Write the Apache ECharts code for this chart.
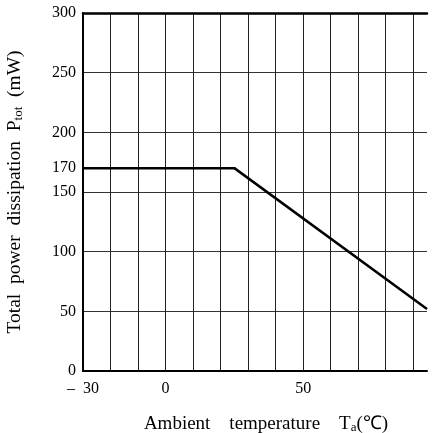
<!DOCTYPE html>
<html><head><meta charset="utf-8">
<script src="https://cdn.jsdelivr.net/npm/echarts@6/dist/echarts.min.js"></script>
<style>html,body{margin:0;padding:0;background:#fff}#c{width:436px;height:433px}</style>
</head><body><div id="c"></div>
<script>
const temps = [-30, 25, 95];
const power = [170, 170, 52];
const yLabelValues = [0, 50, 100, 150, 170, 200, 250, 300];
const xLabelValues = [-30, 0, 50];
const xLabelTexts = ['–  30', '0', '50'];

const font = 'Liberation Serif';
const chart = echarts.init(document.getElementById('c'), null, {renderer: 'canvas'});
chart.setOption({
  animation: false,
  backgroundColor: '#fff',
  grid: {left: 83, top: 13, right: 9, bottom: 62, outerBoundsMode: 'none', containLabel: false},
  xAxis: [{
    type: 'value', min: -30, max: 95, interval: 10, position: 'bottom',
    axisLine: {show: true, onZero: false, lineStyle: {color: '#000', width: 2}},
    axisTick: {show: false},
    splitLine: {show: true, showMaxLine: false, lineStyle: {color: '#222', width: 1}},
    axisLabel: {
      color: '#000', fontFamily: font, fontSize: 16, margin: 10, showMaxLabel: false,
      formatter: v => { const i = xLabelValues.indexOf(v); return i >= 0 ? xLabelTexts[i] : ''; }
    },
    name: '{n|Ambient    temperature    T}{s|a}{n|(℃)}',
    nameLocation: 'middle', nameGap: 43,
    nameTextStyle: {
      padding: [0, 0, 0, 22],
      rich: {
        n: {fontFamily: font, fontSize: 19, color: '#000'},
        s: {fontFamily: font, fontSize: 13, color: '#000', verticalAlign: 'bottom', padding: [7, 0, 0, 0]}
      }
    }
  }, {
    type: 'value', min: -30, max: 95, position: 'top',
    axisLine: {show: true, onZero: false, lineStyle: {color: '#000', width: 2.5}},
    axisTick: {show: false}, axisLabel: {show: false}, splitLine: {show: false}
  }],
  yAxis: [{
    type: 'value', min: 0, max: 300, interval: 50,
    axisLine: {show: true, onZero: false, lineStyle: {color: '#000', width: 2}},
    axisTick: {show: false},
    splitLine: {show: true, showMinLine: false, showMaxLine: false, lineStyle: {color: '#333', width: 1}},
    axisLabel: {show: false},
    name: '{n|Total  power  dissipation  P}{s|tot}{n|  (mW)}',
    nameLocation: 'middle', nameGap: 58, nameRotate: 90,
    nameTextStyle: {
      rich: {
        n: {fontFamily: font, fontSize: 19.5, color: '#000'},
        s: {fontFamily: font, fontSize: 13, color: '#000', verticalAlign: 'bottom', padding: [7, 0, 0, 0]}
      }
    }
  }, {
    type: 'value', min: 0, max: 300, interval: 10, position: 'left',
    axisLine: {show: false}, axisTick: {show: false}, splitLine: {show: false},
    axisLabel: {
      color: '#000', fontFamily: font, fontSize: 16, margin: 7,
      formatter: v => yLabelValues.indexOf(v) >= 0 ? String(v) : ''
    }
  }],
  series: [{
    type: 'line', xAxisIndex: 0, yAxisIndex: 0,
    data: temps.map((t, i) => [t, power[i]]),
    showSymbol: false, symbol: 'none',
    lineStyle: {color: '#000', width: 2.5},
    clip: true
  }]
});
</script></body></html>
